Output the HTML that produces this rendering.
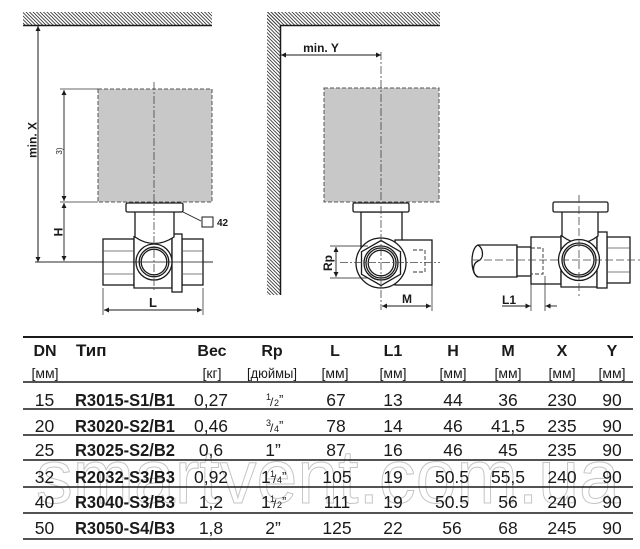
<!DOCTYPE html>
<html><head><meta charset="utf-8"><style>
html,body{margin:0;padding:0;background:#fff;}
svg{display:block;}
text{font-family:"Liberation Sans","Noto Sans CJK SC",sans-serif;fill:#1a1a1a;}
</style></head><body>
<svg width="640" height="549" viewBox="0 0 640 549" xmlns="http://www.w3.org/2000/svg">
<defs>
<pattern id="h" width="3.5" height="3.5" patternUnits="userSpaceOnUse">
<path d="M-1,-1 L4.5,4.5 M2.5,-1 L4.5,1 M-1,2.5 L1,4.5" stroke="#333" stroke-width="0.8"/>
</pattern>
<marker id="a" viewBox="0 0 10 10" refX="10" refY="5" markerWidth="8" markerHeight="5" markerUnits="userSpaceOnUse" orient="auto-start-reverse">
<path d="M0,0 L10,5 L0,10 z" fill="#1a1a1a"/>
</marker>
</defs>

<!-- watermark -->
<text x="36" y="503" font-size="76" textLength="584" lengthAdjust="spacingAndGlyphs" style="fill:none;stroke:#c4c4c4;stroke-width:1">smartvent.com.ua</text>

<!-- ===== LEFT DIAGRAM ===== -->
<rect x="23" y="12" width="189" height="13" fill="url(#h)"/>
<line x1="23" y1="25.5" x2="212" y2="25.5" stroke="#1a1a1a" stroke-width="1.5"/>
<line x1="38" y1="26" x2="38" y2="262" stroke="#1a1a1a" stroke-width="1" marker-start="url(#a)" marker-end="url(#a)"/>
<text transform="translate(36.5,140) rotate(-90)" text-anchor="middle" font-size="12" font-weight="bold">min. X</text>
<line x1="35" y1="262" x2="213" y2="262" stroke="#1a1a1a" stroke-width="0.8"/>

<rect x="98" y="89" width="114" height="113" fill="#c8c8c8" stroke="#555" stroke-width="1" stroke-dasharray="4,2"/>
<line x1="60" y1="89" x2="98" y2="89" stroke="#333" stroke-width="0.7"/>
<line x1="60" y1="202" x2="98" y2="202" stroke="#333" stroke-width="0.7"/>
<line x1="64" y1="90" x2="64" y2="201" stroke="#1a1a1a" stroke-width="0.9" marker-start="url(#a)" marker-end="url(#a)"/>
<text transform="translate(62,151) rotate(-90)" text-anchor="middle" font-size="8">3)</text>
<line x1="64" y1="203" x2="64" y2="261" stroke="#1a1a1a" stroke-width="0.9" marker-start="url(#a)" marker-end="url(#a)"/>
<text transform="translate(62.5,232) rotate(-90)" text-anchor="middle" font-size="12" font-weight="bold">H</text>

<!-- valve left -->
<g stroke="#1a1a1a" stroke-width="1.3" fill="#fff">
<rect x="103" y="239" width="31" height="46"/>
<rect x="182" y="239" width="21" height="46"/>
<path d="M134,236 V288 H172 V236"/>
<rect x="172" y="234" width="10" height="58"/>
<path d="M135,212 V237 Q154,250 174,237 V212" />
<rect x="126" y="203" width="57" height="9" rx="1.5"/>
<circle cx="154" cy="262" r="18"/>
<circle cx="154" cy="262" r="14.8"/>
<circle cx="154" cy="262" r="12.8"/>
</g>
<g stroke="#555" stroke-width="0.7">
<line x1="103" y1="251" x2="134" y2="251"/><line x1="103" y1="274" x2="134" y2="274"/>
<line x1="182" y1="251" x2="203" y2="251"/><line x1="182" y1="274" x2="203" y2="274"/>
</g>
<line x1="35" y1="262" x2="213" y2="262" stroke="#1a1a1a" stroke-width="0.7"/>
<line x1="154" y1="82" x2="154" y2="292" stroke="#444" stroke-width="0.8" stroke-dasharray="8,2,2,2"/>
<line x1="183" y1="212" x2="201" y2="221" stroke="#1a1a1a" stroke-width="0.9"/>
<rect x="202" y="217" width="11" height="10" fill="#fff" stroke="#1a1a1a" stroke-width="1"/>
<text x="217" y="226" font-size="10" font-weight="bold">42</text>
<line x1="103" y1="288" x2="103" y2="315" stroke="#1a1a1a" stroke-width="0.7"/>
<line x1="203" y1="288" x2="203" y2="315" stroke="#1a1a1a" stroke-width="0.7"/>
<line x1="104" y1="310" x2="202" y2="310" stroke="#1a1a1a" stroke-width="0.9" marker-start="url(#a)" marker-end="url(#a)"/>
<text x="153" y="307" text-anchor="middle" font-size="13" font-weight="bold">L</text>

<!-- ===== MIDDLE DIAGRAM ===== -->
<rect x="267" y="12" width="173" height="13" fill="url(#h)"/>
<rect x="267" y="12" width="13" height="283" fill="url(#h)"/>
<path d="M280.5,295 V25.5 H440" fill="none" stroke="#1a1a1a" stroke-width="1.5"/>
<line x1="281" y1="55" x2="381" y2="55" stroke="#1a1a1a" stroke-width="0.9" marker-start="url(#a)" marker-end="url(#a)"/>
<text x="321" y="52" text-anchor="middle" font-size="12" font-weight="bold">min. Y</text>

<rect x="324" y="88" width="115" height="114" fill="#c8c8c8" stroke="#555" stroke-width="1" stroke-dasharray="4,2"/>
<g stroke="#1a1a1a" stroke-width="1.3" fill="#fff">
<rect x="361" y="212" width="41" height="36"/>
<rect x="395" y="240" width="37" height="45"/>
<rect x="353" y="203" width="56" height="9" rx="1.5"/>
<circle cx="381" cy="263" r="25"/>
<polygon points="381,240.5 400.5,251.7 400.5,274.3 381,285.5 361.5,274.3 361.5,251.7"/>
<circle cx="381" cy="263" r="17"/>
<circle cx="381" cy="263" r="15"/>
<circle cx="381" cy="263" r="12.8"/>
</g>
<path d="M413,250 H425 V272 H413" fill="none" stroke="#333" stroke-width="0.9" stroke-dasharray="4,2"/>
<line x1="340" y1="262.5" x2="440" y2="262.5" stroke="#444" stroke-width="0.7" stroke-dasharray="8,2,2,2"/>
<line x1="381" y1="52" x2="381" y2="310" stroke="#444" stroke-width="0.8" stroke-dasharray="8,2,2,2"/>
<line x1="330" y1="246" x2="368" y2="246" stroke="#1a1a1a" stroke-width="0.7"/>
<line x1="330" y1="278" x2="368" y2="278" stroke="#1a1a1a" stroke-width="0.7"/>
<line x1="336" y1="247" x2="336" y2="277" stroke="#1a1a1a" stroke-width="0.9" marker-start="url(#a)" marker-end="url(#a)"/>
<text transform="translate(332,263) rotate(-90)" text-anchor="middle" font-size="12" font-weight="bold">Rp</text>
<line x1="432" y1="285" x2="432" y2="311" stroke="#1a1a1a" stroke-width="0.7"/>
<line x1="382" y1="306" x2="431" y2="306" stroke="#1a1a1a" stroke-width="0.9" marker-start="url(#a)" marker-end="url(#a)"/>
<text x="407" y="303" text-anchor="middle" font-size="12" font-weight="bold">M</text>

<!-- ===== RIGHT DIAGRAM ===== -->
<g stroke="#1a1a1a" stroke-width="1.3" fill="#fff">
<path d="M517,245 H478 C470,248 470,274 478,277 H517 Z"/>
<path d="M478,245 C484,249 484,259 478,261 C472,264 472,274 478,277" fill="none"/>
<rect x="517" y="247" width="14" height="29"/>
<rect x="531" y="237" width="30" height="47"/>
<rect x="607" y="237" width="23" height="46"/>
<path d="M561,235 V287 H597 V235"/>
<rect x="597" y="232" width="10" height="56"/>
<path d="M562,212 V236 Q580,250 598,236 V212"/>
<rect x="553" y="202" width="55" height="10" rx="1.5"/>
<circle cx="579" cy="260" r="20.5"/>
<circle cx="579" cy="260" r="17"/>
<circle cx="579" cy="260" r="15"/>
</g>
<g stroke="#555" stroke-width="0.7">
<line x1="607" y1="248" x2="630" y2="248"/><line x1="607" y1="272" x2="630" y2="272"/>
</g>
<path d="M531,248 H543 V274 H531" fill="none" stroke="#333" stroke-width="0.9" stroke-dasharray="4,2"/>
<line x1="473" y1="260" x2="640" y2="260" stroke="#444" stroke-width="0.8" stroke-dasharray="8,3"/>
<line x1="579" y1="195" x2="579" y2="296" stroke="#444" stroke-width="0.8" stroke-dasharray="8,3"/>
<line x1="531" y1="284" x2="531" y2="311" stroke="#1a1a1a" stroke-width="0.7"/>
<line x1="545" y1="276" x2="545" y2="311" stroke="#1a1a1a" stroke-width="0.7"/>
<line x1="502" y1="306" x2="530.5" y2="306" stroke="#1a1a1a" stroke-width="0.9" marker-end="url(#a)"/>
<line x1="557" y1="306" x2="545.5" y2="306" stroke="#1a1a1a" stroke-width="0.9" marker-end="url(#a)"/>
<text x="502" y="304" font-size="12" font-weight="bold">L1</text>

<!-- ===== TABLE ===== -->
<g stroke="#1a1a1a">
<line x1="23" y1="337" x2="633" y2="337" stroke-width="2"/>
<line x1="23" y1="382" x2="633" y2="382" stroke-width="1.5"/>
<line x1="23" y1="409" x2="633" y2="409" stroke-width="1.5"/>
<line x1="23" y1="435" x2="633" y2="435" stroke-width="1.5"/>
<line x1="23" y1="460" x2="633" y2="460" stroke-width="1.5"/>
<line x1="23" y1="487" x2="633" y2="487" stroke-width="1.5"/>
<line x1="23" y1="513" x2="633" y2="513" stroke-width="1.5"/>
<line x1="23" y1="539" x2="633" y2="539" stroke-width="1.5"/>
</g>

<g font-size="16" font-weight="bold" text-anchor="middle">
<text x="45" y="356">DN</text>
<text x="76" y="356" text-anchor="start" font-size="17">Тип</text>
<text x="212" y="356">Вес</text>
<text x="272" y="356">Rp</text>
<text x="335" y="356">L</text>
<text x="393" y="356">L1</text>
<text x="453" y="356">H</text>
<text x="508" y="356">M</text>
<text x="562" y="356">X</text>
<text x="612" y="356">Y</text>
</g>
<g font-size="14" text-anchor="middle">
<text x="45" y="378">[мм]</text>
<text x="212" y="378">[кг]</text>
<text x="272" y="378" textLength="50" lengthAdjust="spacingAndGlyphs">[дюймы]</text>
<text x="335" y="378">[мм]</text>
<text x="393" y="378">[мм]</text>
<text x="453" y="378">[мм]</text>
<text x="508" y="378">[мм]</text>
<text x="562" y="378">[мм]</text>
<text x="612" y="378">[мм]</text>
</g>

<g font-size="17.5" text-anchor="middle">
<!-- row 1 -->
<text x="44.5" y="406">15</text>
<text x="211" y="406">0,27</text>
<text x="336" y="406">67</text><text x="393" y="406">13</text><text x="453" y="406">44</text><text x="508" y="406">36</text><text x="562" y="406">230</text><text x="612" y="406">90</text>
<!-- row 2 -->
<text x="44.5" y="432">20</text>
<text x="211" y="432">0,46</text>
<text x="336" y="432">78</text><text x="393" y="432">14</text><text x="453" y="432">46</text><text x="508" y="432">41,5</text><text x="562" y="432">235</text><text x="612" y="432">90</text>
<!-- row 3 -->
<text x="44.5" y="456">25</text>
<text x="211" y="456">0,6</text>
<text x="336" y="456">87</text><text x="393" y="456">16</text><text x="453" y="456">46</text><text x="508" y="456">45</text><text x="562" y="456">235</text><text x="612" y="456">90</text>
<!-- row 4 -->
<text x="44.5" y="483">32</text>
<text x="211" y="483">0,92</text>
<text x="337" y="483">105</text><text x="393" y="483">19</text><text x="452" y="483">50.5</text><text x="508" y="483">55,5</text><text x="562" y="483">240</text><text x="612" y="483">90</text>
<!-- row 5 -->
<text x="44.5" y="508">40</text>
<text x="211" y="508">1,2</text>
<text x="337" y="508">111</text><text x="393" y="508">19</text><text x="452" y="508">50.5</text><text x="508" y="508">56</text><text x="562" y="508">240</text><text x="612" y="508">90</text>
<!-- row 6 -->
<text x="44.5" y="534">50</text>
<text x="211" y="534">1,8</text>
<text x="337" y="534">125</text><text x="393" y="534">22</text><text x="452" y="534">56</text><text x="508" y="534">68</text><text x="562" y="534">245</text><text x="612" y="534">90</text>
</g>

<g font-size="17.5" font-weight="bold">
<text x="75" y="406" textLength="100" lengthAdjust="spacingAndGlyphs">R3015-S1/B1</text>
<text x="75" y="432" textLength="100" lengthAdjust="spacingAndGlyphs">R3020-S2/B1</text>
<text x="75" y="456" textLength="100" lengthAdjust="spacingAndGlyphs">R3025-S2/B2</text>
<text x="75" y="483" textLength="100" lengthAdjust="spacingAndGlyphs">R2032-S3/B3</text>
<text x="75" y="508" textLength="100" lengthAdjust="spacingAndGlyphs">R3040-S3/B3</text>
<text x="75" y="534" textLength="100" lengthAdjust="spacingAndGlyphs">R3050-S4/B3</text>
</g>

<!-- Rp fractions -->
<g font-size="9">
<text x="266" y="400">1</text><text x="270" y="406" font-size="12">/</text><text x="274" y="406">2</text><text x="279" y="404" font-size="13">”</text>
<text x="266" y="426">3</text><text x="270" y="432" font-size="12">/</text><text x="274" y="432">4</text><text x="279" y="430" font-size="13">”</text>
<text x="273" y="456" font-size="17.5" text-anchor="middle">1”</text>
<text x="261" y="483" font-size="17.5">1</text><text x="270" y="477">1</text><text x="273" y="483" font-size="12">/</text><text x="277" y="483">4</text><text x="282" y="481" font-size="13">”</text>
<text x="261" y="508" font-size="17.5">1</text><text x="270" y="502">1</text><text x="273" y="508" font-size="12">/</text><text x="277" y="508">2</text><text x="282" y="506" font-size="13">”</text>
<text x="273" y="534" font-size="17.5" text-anchor="middle">2”</text>
</g>
</svg>
</body></html>
